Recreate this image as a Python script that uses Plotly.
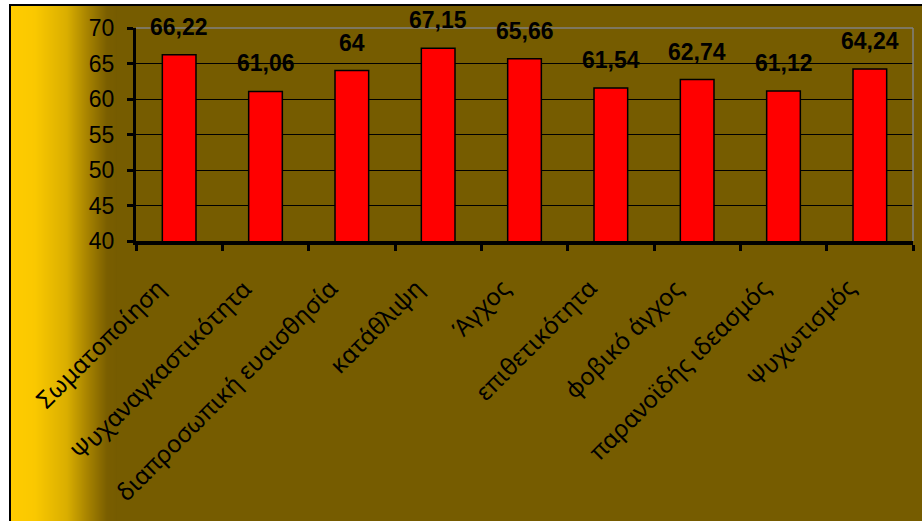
import plotly.graph_objects as go

# Scale scores per symptom dimension
categories = ["Σωματοποίηση", "Ψυχαναγκαστικότητα", "διαπροσωπική ευαισθησία",
              "κατάθλιψη", "Άγχος", "επιθετικότητα", "φοβικό άγχος",
              "παρανοϊδής ιδεασμός", "Ψυχωτισμός"]
values = [66.22, 61.06, 64, 67.15, 65.66, 61.54, 62.74, 61.12, 64.24]
y_ticks = [40, 45, 50, 55, 60, 65, 70]

W, H = 922, 521
L, R, T, B = 136, 9, 28, 280
PW, PH = W - L - R, H - T - B


def px_x(px):
    return (px - L) / PW


def px_y(py):
    return (H - B - py) / PH


def fmt(v):
    return f"{v:g}".replace(".", ",")


fig = go.Figure(go.Bar(
    x=categories, y=values,
    marker=dict(color="#ff0000", line=dict(color="black", width=1.5)),
    width=0.39,
))

shapes = []
# chart frame with brown fill
shapes.append(dict(type="rect", xref="paper", yref="paper", layer="below",
                   x0=px_x(10), x1=px_x(930), y0=px_y(5), y1=px_y(530),
                   fillcolor="rgb(118,92,0)", line=dict(color="black", width=2)))

# yellow-to-brown gradient on the left side of the frame
stops = [(11, (255, 204, 0)), (35, (250, 200, 0)), (67, (217, 174, 0)),
         (87, (168, 132, 0)), (107, (122, 94, 0)), (116, (118, 92, 0))]


def grad_color(px):
    for (a, ca), (b, cb) in zip(stops[:-1], stops[1:]):
        if a <= px <= b:
            t = (px - a) / (b - a)
            return tuple(round(ca[i] + (cb[i] - ca[i]) * t) for i in range(3))
    return stops[-1][1]


for px in range(11, 116):
    c = grad_color(px + 0.5)
    shapes.append(dict(type="rect", xref="paper", yref="paper", layer="below",
                       x0=px_x(px), x1=px_x(px + 1.05), y0=px_y(6), y1=px_y(530),
                       fillcolor=f"rgb{c}", line=dict(width=0)))

# grey plot-area border on top and right
shapes.append(dict(type="line", xref="paper", yref="paper", layer="above",
                   x0=0, x1=1, y0=1, y1=1, line=dict(color="#808080", width=1.5)))
shapes.append(dict(type="line", xref="paper", yref="paper", layer="above",
                   x0=1, x1=1, y0=0, y1=1, line=dict(color="#808080", width=1.5)))

# value labels above the bars
annotations = [dict(x=c, y=v, xref="x", yref="y", text=fmt(v), showarrow=False,
                    yanchor="bottom", yshift=13,
                    font=dict(family="Arial, Liberation Sans", size=23, color="black",
                              weight="bold"))
               for c, v in zip(categories, values)]

# slanted category labels below the axis
annotations += [dict(x=c, y=0, xref="x", yref="paper", text=c, showarrow=False,
                     textangle=-45, xanchor="right", yanchor="top",
                     xshift=-5, yshift=-28,
                     font=dict(family="Noto Sans", size=24, color="black"))
                for c in categories]

fig.update_layout(
    width=W, height=H,
    margin=dict(l=L, r=R, t=T, b=B, autoexpand=False),
    paper_bgcolor="white",
    plot_bgcolor="#c0c0c0",
    showlegend=False,
    shapes=shapes,
    annotations=annotations,
    font=dict(family="Arial, Liberation Sans", color="black"),
)

fig.update_xaxes(
    type="category", tickson="boundaries", showticklabels=False,
    range=[-0.5, len(categories) - 0.5], autorange=False,
    ticks="outside", ticklen=6, tickwidth=3, tickcolor="black",
    showline=True, linewidth=4, linecolor="black",
    showgrid=False,
)
fig.update_yaxes(
    range=[40, 70], autorange=False, tickvals=y_ticks, ticks="outside",
    ticklen=6, tickwidth=3,
    tickcolor="black", showline=True, linewidth=3, linecolor="black",
    showgrid=True, gridcolor="black", gridwidth=1.2,
    tickfont=dict(size=23, color="black"), zeroline=False,
    ticklabelstandoff=8,
)

fig.write_html("out.html")
